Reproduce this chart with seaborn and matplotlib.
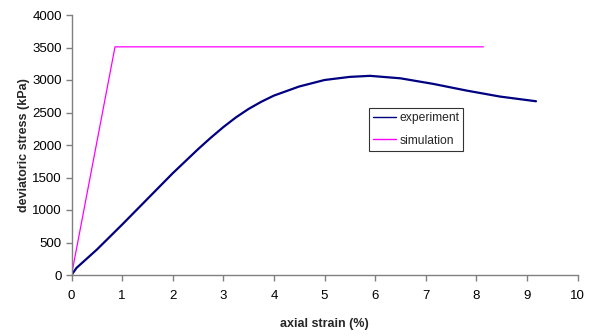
import matplotlib
matplotlib.use("Agg")
import matplotlib.pyplot as plt
import seaborn as sns
import pandas as pd

exp_strain = [0.0, 0.10, 0.5, 1.0, 1.5, 2.0, 2.25, 2.5, 2.75, 3.0, 3.25, 3.5, 3.75, 4.0, 4.5, 5.0, 5.5, 5.9, 6.5, 7.15, 7.81, 8.47, 9.18]
exp_stress = [0, 110, 390, 775, 1170, 1565, 1750, 1935, 2110, 2275, 2425, 2555, 2665, 2760, 2900, 3000, 3048, 3064, 3026, 2940, 2837, 2745, 2673]
sim_strain = [0.0, 0.86, 8.14]
sim_stress = [0, 3510, 3510]

x_ticks = list(range(0, 11))
y_ticks = list(range(0, 4001, 500))

sns.set_theme(style="white")
plt.rcParams['font.family'] = ['Liberation Sans', 'DejaVu Sans']

fig = plt.figure(figsize=(5.95, 3.36), dpi=100)
ax = fig.add_axes([71.5/595, 1-275/336, 506/595, 260/336])

df_exp = pd.DataFrame({"x": exp_strain, "y": exp_stress})
df_sim = pd.DataFrame({"x": sim_strain, "y": sim_stress})
sns.lineplot(data=df_exp, x="x", y="y", ax=ax, color="#000080", linewidth=1.6,
             sort=False, estimator=None, label="experiment")
sns.lineplot(data=df_sim, x="x", y="y", ax=ax, color="#FF00FF", linewidth=0.9,
             sort=False, estimator=None, label="simulation")

ax.set_xlim(0, 10)
ax.set_ylim(0, 4000)
ax.set_xticks(x_ticks)
ax.set_yticks(y_ticks)
ax.set_xticklabels([str(t) for t in x_ticks])
ax.set_yticklabels([str(t) for t in y_ticks])
for s in ["top", "right"]:
    ax.spines[s].set_visible(False)
for s in ["left", "bottom"]:
    ax.spines[s].set_color("#808080")
    ax.spines[s].set_linewidth(1.0)
ax.tick_params(axis="both", which="major", direction="out", length=4, width=1,
               color="#808080", labelsize=9.5, labelcolor="black", bottom=True, left=True)
ax.tick_params(axis="x", pad=6.5)
ax.tick_params(axis="y", pad=3)
ax.set_xlabel("axial strain (%)", fontsize=9, fontweight="bold", labelpad=12)
ax.set_ylabel("deviatoric stress (kPa)", fontsize=9, fontweight="bold", labelpad=1.5)

leg = ax.legend(loc="upper left", bbox_to_anchor=(0.588, 0.642), fontsize=8.7,
                frameon=True, fancybox=False, borderpad=0.35, handlelength=1.9,
                handletextpad=0.25, labelspacing=0.85, borderaxespad=0)
leg.get_frame().set_edgecolor("black")
leg.get_frame().set_linewidth(0.8)
for line in leg.get_lines():
    line.set_linewidth(1.0)

fig.savefig("out.png", dpi=100)
